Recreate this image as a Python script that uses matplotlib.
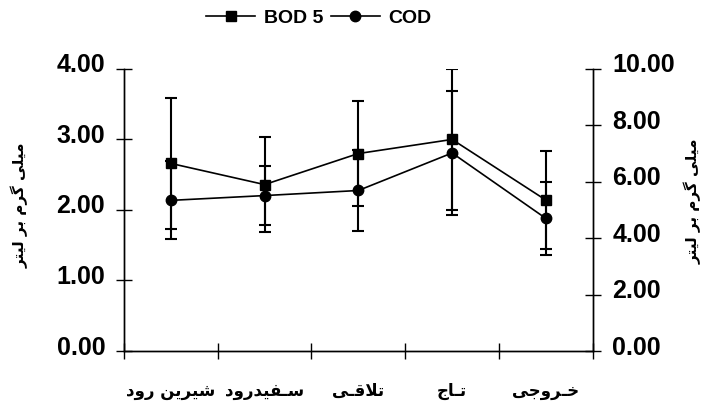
import numpy as np
import matplotlib.pyplot as plt
from matplotlib.lines import Line2D
from matplotlib.transforms import ScaledTranslation

plt.rcParams['font.family'] = ['Liberation Sans', 'DejaVu Sans']
plt.rcParams['font.weight'] = 'bold'

stations = ['شیرین رود', 'سـفیدرود', 'تلاقـی', 'تـاج', 'خـروجی']
bod5 = [2.66, 2.36, 2.80, 3.00, 2.14]
bod5_err = [0.93, 0.67, 0.74, 1.00, 0.70]
cod = [5.34, 5.51, 5.69, 7.02, 4.70]
cod_err = [1.38, 1.04, 1.42, 2.20, 1.28]
left_ticks = [0, 1, 2, 3, 4]
right_ticks = [0, 2, 4, 6, 8, 10]
unit = 'میلی گرم بر لیتر'

# persian letter forms: isolated, final, initial, medial
FORMS = {
    'ا': ('\uFE8D', '\uFE8E', None, None),
    'ب': ('\uFE8F', '\uFE90', '\uFE91', '\uFE92'),
    'ت': ('\uFE95', '\uFE96', '\uFE97', '\uFE98'),
    'ج': ('\uFE9D', '\uFE9E', '\uFE9F', '\uFEA0'),
    'خ': ('\uFEA5', '\uFEA6', '\uFEA7', '\uFEA8'),
    'د': ('\uFEA9', '\uFEAA', None, None),
    'ر': ('\uFEAD', '\uFEAE', None, None),
    'س': ('\uFEB1', '\uFEB2', '\uFEB3', '\uFEB4'),
    'ش': ('\uFEB5', '\uFEB6', '\uFEB7', '\uFEB8'),
    'ف': ('\uFED1', '\uFED2', '\uFED3', '\uFED4'),
    'ق': ('\uFED5', '\uFED6', '\uFED7', '\uFED8'),
    'ل': ('\uFEDD', '\uFEDE', '\uFEDF', '\uFEE0'),
    'م': ('\uFEE1', '\uFEE2', '\uFEE3', '\uFEE4'),
    'ن': ('\uFEE5', '\uFEE6', '\uFEE7', '\uFEE8'),
    'و': ('\uFEED', '\uFEEE', None, None),
    'ی': ('\uFBFC', '\uFBFD', '\uFBFE', '\uFBFF'),
    'گ': ('\uFB92', '\uFB93', '\uFB94', '\uFB95'),
    'ـ': ('ـ', 'ـ', 'ـ', 'ـ'),
}


def joins_next(c):
    return c in FORMS and FORMS[c][2] is not None


def shape(text):
    # join letters and flip to visual order (no bidi support in mpl)
    res = []
    i = 0
    n = len(text)
    while i < n:
        c = text[i]
        if c not in FORMS:
            res.append(c)
            i += 1
            continue
        prev = i > 0 and joins_next(text[i - 1])
        if c == 'ل' and i + 1 < n and text[i + 1] == 'ا':
            res.append('\uFEFC' if prev else '\uFEFB')
            i += 2
            continue
        nxt = i + 1 < n and text[i + 1] in FORMS and joins_next(c)
        iso, fin, ini, med = FORMS[c]
        if prev and nxt:
            res.append(med)
        elif prev:
            res.append(fin)
        elif nxt:
            res.append(ini)
        else:
            res.append(iso)
        i += 1
    return ''.join(reversed(res))


fig = plt.figure(figsize=(7.04, 4.03), dpi=100)
ax = fig.add_axes([0.176, 0.129, 0.666, 0.700])
ax2 = ax.twinx()

x = np.arange(len(stations)) + 0.5

ax.errorbar(x, bod5, yerr=bod5_err, color='black', lw=1.2, marker='s', ms=7,
            ecolor='black', elinewidth=1.5, capsize=4.6, capthick=1.5)
ax2.errorbar(x, cod, yerr=cod_err, color='black', lw=1.2, marker='o', ms=7.5,
             ecolor='black', elinewidth=1.5, capsize=4.6, capthick=1.5)

ax.set_xlim(0, len(stations))
ax.set_ylim(0, 4)
ax2.set_ylim(0, 10)

ax.set_xticks(np.arange(len(stations) + 1))
ax.set_xticklabels([])
ax.set_xticks(x, minor=True)
ax.set_xticklabels([shape(s) for s in stations], minor=True, fontsize=12,
                   family='DejaVu Sans', fontweight='bold')
ax.tick_params(axis='x', which='major', direction='inout', length=11, width=1)
ax.tick_params(axis='x', which='minor', length=0, pad=22)

ax.set_yticks(left_ticks)
ax.set_yticklabels(['%.2f' % v for v in left_ticks], fontsize=18)
ax.tick_params(axis='y', direction='inout', length=11, width=1, pad=8)
ax2.set_yticks(right_ticks)
ax2.set_yticklabels(['%.2f' % v for v in right_ticks], fontsize=18)
ax2.tick_params(axis='y', direction='inout', length=12, width=1, pad=8)

up = ScaledTranslation(0, 6 / 100, fig.dpi_scale_trans)
for lab in ax.get_yticklabels() + ax2.get_yticklabels():
    lab.set_transform(lab.get_transform() + up)

for a in (ax, ax2):
    a.spines['top'].set_visible(False)
    for s in a.spines.values():
        s.set_linewidth(1)

fig.text(0.028, 0.49, shape(unit), rotation=90, ha='center', va='center',
         fontsize=11, family='DejaVu Sans', fontweight='bold')
fig.text(0.984, 0.50, shape(unit), rotation=90, ha='center', va='center',
         fontsize=11, family='DejaVu Sans', fontweight='bold')

handles = [Line2D([], [], color='black', lw=1.2, marker='s', ms=7),
           Line2D([], [], color='black', lw=1.2, marker='o', ms=7.5)]
fig.legend(handles, ['BOD 5', 'COD'], loc='center', bbox_to_anchor=(0.453, 0.955),
           ncol=2, frameon=False, fontsize=14, handlelength=2.5,
           handletextpad=0.45, columnspacing=0.4)

plt.savefig('out.png', dpi=100)
